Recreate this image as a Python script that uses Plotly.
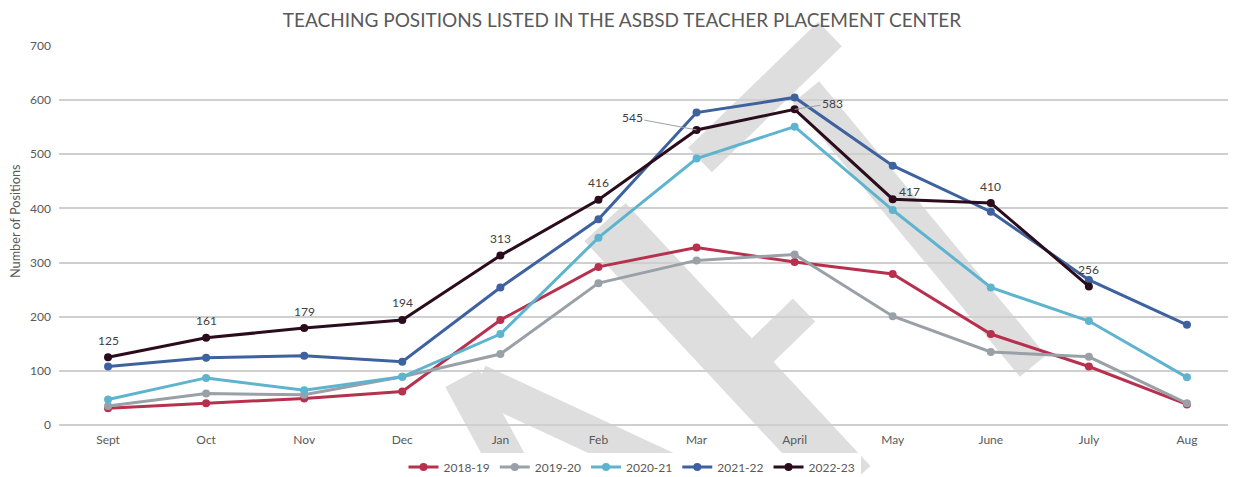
import plotly.graph_objects as go

months = ["Sept", "Oct", "Nov", "Dec", "Jan", "Feb", "Mar", "April", "May", "June", "July", "Aug"]

s_2018_19 = [31, 40, 49, 62, 194, 292, 328, 301, 279, 168, 108, 38]
s_2019_20 = [35, 58, 56, 89, 131, 262, 304, 315, 201, 135, 126, 40]
s_2020_21 = [47, 87, 64, 89, 168, 346, 492, 551, 397, 254, 192, 88]
s_2021_22 = [108, 124, 128, 117, 254, 380, 577, 605, 479, 394, 268, 185]
s_2022_23 = [125, 161, 179, 194, 313, 416, 545, 583, 417, 410, 256, None]

series = [
    ("2018-19", s_2018_19, "#B7304E"),
    ("2019-20", s_2019_20, "#9AA0A8"),
    ("2020-21", s_2020_21, "#5EB4CF"),
    ("2021-22", s_2021_22, "#3E619F"),
    ("2022-23", s_2022_23, "#2A0C1C"),
]

FONT = "Lato, 'Open Sans', sans-serif"
TXT = "#595959"
LAB = "#404040"

fig = go.Figure()
for name, vals, col in series:
    fig.add_trace(go.Scatter(
        x=months, y=vals, name=name, mode="lines+markers",
        line=dict(color=col, width=3),
        marker=dict(color=col, size=8),
        connectgaps=False,
    ))

# data labels for 2022-23 (plain labels above points)
for i, v in enumerate(s_2022_23):
    if v is None or months[i] in ("Mar", "April"):
        continue
    xs = 17 if months[i] == "May" else 0
    ys = 8 if months[i] == "May" else 17
    fig.add_annotation(x=months[i], y=v, text=str(v), showarrow=False,
                       xshift=xs, yshift=ys,
                       font=dict(family=FONT, size=12, color=LAB))

# labels with leader lines
fig.add_annotation(x="Mar", y=s_2022_23[6], text="545", showarrow=True,
                   arrowhead=0, arrowwidth=1, arrowcolor="#a0a0a0",
                   ax=-64, ay=-12,
                   font=dict(family=FONT, size=12, color=LAB))
fig.add_annotation(x="April", y=s_2022_23[7], text="583", showarrow=True,
                   arrowhead=0, arrowwidth=1, arrowcolor="#a0a0a0",
                   ax=38, ay=-6,
                   font=dict(family=FONT, size=12, color=LAB))

# watermark (decorative gray bands), window pixel coords -> paper coords
L, R, T, B = 59, 1236, 46, 425
def px(x):
    return (x - L) / (R - L)
def py(y):
    return (B - y) / (B - T)

# y-axis title as rotated annotation (sits above the plot's middle)
fig.add_annotation(xref="paper", yref="paper", x=px(15), y=py(221),
                   xanchor="center", yanchor="middle",
                   text="Number of Positions", textangle=-90, showarrow=False,
                   font=dict(family=FONT, size=12.7, color=TXT))

wm = [
    ((830, 34), (700, 160), 34),
    ((806, 92), (1033, 366), 34),
    ((605, 222), (850, 485), 56),
    ((804, 310), (730, 382), 32),
    ((462, 378), (520, 485), 38),
    ((478, 382), (700, 485), 36),
]
shapes = []
for (x0, y0), (x1, y1), w in wm:
    shapes.append(dict(type="line", xref="paper", yref="paper",
                       x0=px(x0), y0=py(y0), x1=px(x1), y1=py(y1),
                       line=dict(color="#dedede", width=w), layer="below"))

# page body has an 8px margin: figure is sized/offset to compensate
fig.update_layout(
    width=1228, height=469,
    margin=dict(l=51, r=0, t=38, b=52, autoexpand=False),
    paper_bgcolor="white", plot_bgcolor="rgba(0,0,0,0)",
    font=dict(family=FONT, color=TXT, size=12),
    title=dict(text="TEACHING POSITIONS LISTED IN THE ASBSD TEACHER PLACEMENT CENTER",
               x=0.5, xanchor="center", y=1 - 12 / 469, yref="container", yanchor="middle",
               pad=dict(t=0, b=0),
               font=dict(family=FONT, size=19, color=TXT)),
    showlegend=True,
    legend=dict(orientation="h", x=px(632), xanchor="center", y=-0.111, yanchor="middle",
                font=dict(family=FONT, size=12, color=TXT), itemwidth=30,
                traceorder="normal"),
    shapes=shapes,
    xaxis=dict(type="category", categoryorder="array", categoryarray=months,
               showgrid=False, showline=False, zeroline=False, ticks="",
               ticklabelstandoff=6, automargin=False,
               tickfont=dict(family=FONT, size=12, color=TXT),
               range=[-0.5, 11.5]),
    yaxis=dict(range=[0, 700], dtick=100, showgrid=True, gridcolor="#cfcfcf",
               gridwidth=1.5, zeroline=True, zerolinecolor="#cfcfcf", zerolinewidth=1.5,
               showline=False, ticks="", ticklabelstandoff=7, automargin=False,
               tickfont=dict(family=FONT, size=12, color=TXT)),
)

fig.write_html("out.html")
